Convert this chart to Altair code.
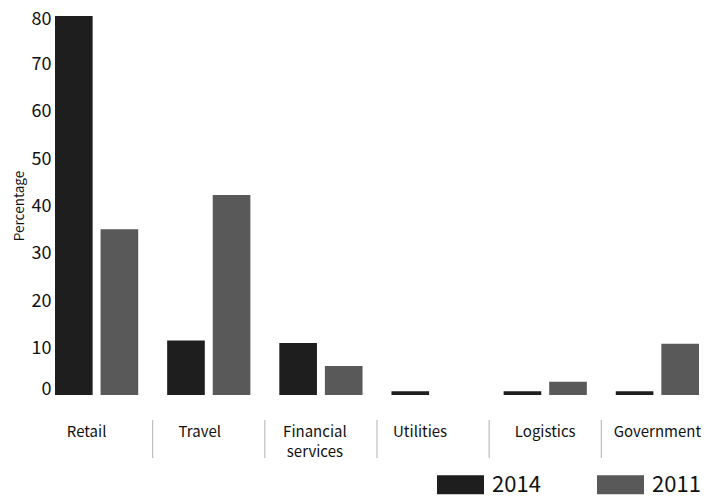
import altair as alt
import pandas as pd

FONT = "Noto Sans CJK KR"

categories = ["Retail", "Travel", "Financial services", "Utilities", "Logistics", "Government"]
years = ["2014", "2011"]
pct_2014 = [80, 11.5, 11, 0.8, 0.8, 0.8]
pct_2011 = [35, 42.2, 6.1, 0, 2.8, 10.8]
y_ticks = [0, 10, 20, 30, 40, 50, 60, 70, 80]
colors = ["#1e1e1e", "#595959"]

rows = []
for c, a, b in zip(categories, pct_2014, pct_2011):
    rows.append({"category": c, "year": "2014", "pct": a})
    rows.append({"category": c, "year": "2011", "pct": b})
df = pd.DataFrame(rows)
sep_df = pd.DataFrame({"category": categories[1:]})

W, H = 644, 379
inner = 0.258
step = W / (len(categories) - inner)
gap = inner * step

x_scale = alt.Scale(domain=categories, paddingInner=inner, paddingOuter=0)

x_label_offset = {
    "condition": [
        {"test": "datum.value == 'Retail'", "value": -10},
        {"test": "datum.value == 'Travel'", "value": -9},
        {"test": "datum.value == 'Financial services'", "value": -6},
        {"test": "datum.value == 'Utilities'", "value": -13},
    ],
    "value": 0,
}
y_label_offset = {
    "condition": [
        {"test": "datum.value == 0", "value": -6},
        {"test": "datum.value == 80", "value": 3},
    ],
    "value": 1,
}

bars = alt.Chart(df).mark_bar().encode(
    x=alt.X(
        "category:N",
        scale=x_scale,
        sort=categories,
        axis=alt.Axis(
            title=None, domain=False, ticks=False, labelAngle=0,
            labelFontSize=15, labelFont=FONT, labelColor="#111",
            labelPadding=29, labelBaseline="top", labelLineHeight=20,
            labelOffset=x_label_offset,
            labelExpr="datum.label == 'Financial services' ? ['Financial', 'services'] : datum.label",
        ),
    ),
    xOffset=alt.XOffset(
        "year:N", sort=years,
        scale=alt.Scale(domain=years, paddingInner=0.174, paddingOuter=0),
    ),
    y=alt.Y(
        "pct:Q",
        scale=alt.Scale(domain=[0, 80], nice=False),
        axis=alt.Axis(
            title="Percentage", values=y_ticks, domain=False, ticks=False, grid=False,
            labelFontSize=18, labelFont=FONT, labelColor="#111", labelPadding=4,
            labelOffset=y_label_offset,
            titleFontSize=13.5, titleFont=FONT, titleFontWeight="normal",
            titleColor="#111", titlePadding=5,
        ),
    ),
    color=alt.Color(
        "year:N", sort=years,
        scale=alt.Scale(domain=years, range=colors),
        legend=alt.Legend(
            title=None, orient="none", legendX=382, legendY=445,
            direction="horizontal",
            symbolType="M-1,-0.4H1V0.4H-1Z", symbolSize=2209,
            symbolStrokeWidth=0, symbolOpacity=1,
            labelFontSize=22, labelFont=FONT, labelColor="#111",
            labelOffset=8, columnPadding=56, padding=0,
        ),
    ),
)

seps = alt.Chart(sep_df).mark_rule(color="#b0b0b0", strokeWidth=1, xOffset=-gap / 2).encode(
    x=alt.X("category:N", bandPosition=0, title=None),
    y=alt.value(404),
    y2=alt.value(442),
)

chart = alt.layer(bars, seps).properties(
    width=W, height=H,
    autosize=alt.AutoSizeParams(type="none"),
    padding={"left": 47, "top": 8, "right": 2, "bottom": 103},
).configure_view(stroke=None)

chart.save("out.html", embed_options={"renderer": "svg", "actions": False})
